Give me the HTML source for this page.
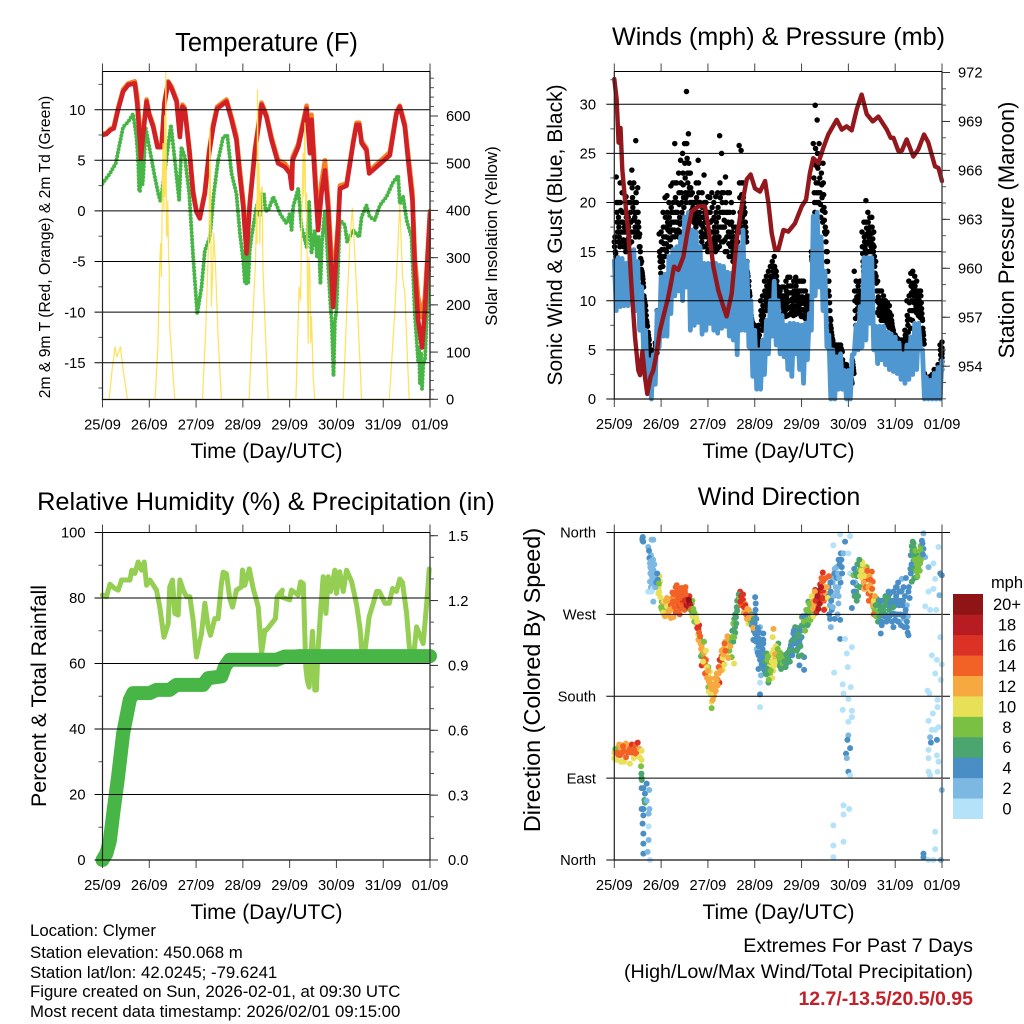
<!DOCTYPE html>
<html lang="en">
<head>
<meta charset="utf-8">
<title>Clymer Station Meteogram</title>
<style>
html,body{margin:0;padding:0;background:#fff;}
svg{display:block;font-family:"Liberation Sans",Arial,sans-serif;fill:#000;}
</style>
</head>
<body>
<svg id="chart" xmlns="http://www.w3.org/2000/svg" width="1024" height="1024" viewBox="0 0 1024 1024">
<rect x="0" y="0" width="1024" height="1024" fill="#fff"/>
<text x="266.5" y="51" font-size="25.5" text-anchor="middle">Temperature (F)</text>
<text x="778.5" y="45" font-size="25.2" text-anchor="middle">Winds (mph) &amp; Pressure (mb)</text>
<text x="266" y="510" font-size="25.35" text-anchor="middle">Relative Humidity (%) &amp; Precipitation (in)</text>
<text x="779" y="505" font-size="25" text-anchor="middle">Wind Direction</text>
<text transform="translate(50 247) rotate(-90)" font-size="15.7" text-anchor="middle">2m &amp; 9m T (Red, Orange) &amp; 2m Td (Green)</text>
<text transform="translate(497 236) rotate(-90)" font-size="16.8" text-anchor="middle">Solar Insolation (Yellow)</text>
<text transform="translate(562 235) rotate(-90)" font-size="21" text-anchor="middle">Sonic Wind &amp; Gust (Blue, Black)</text>
<text transform="translate(1014 230) rotate(-90)" font-size="21.9" text-anchor="middle">Station Pressure (Maroon)</text>
<text transform="translate(46 696) rotate(-90)" font-size="21.4" text-anchor="middle">Percent &amp; Total Rainfall</text>
<text transform="translate(540 680) rotate(-90)" font-size="23.4" text-anchor="middle">Direction (Colored By Speed)</text>
<text x="266.5" y="458" font-size="21" text-anchor="middle">Time (Day/UTC)</text>
<text x="778.5" y="458" font-size="21" text-anchor="middle">Time (Day/UTC)</text>
<text x="266.5" y="919" font-size="21" text-anchor="middle">Time (Day/UTC)</text>
<text x="778.5" y="919" font-size="21" text-anchor="middle">Time (Day/UTC)</text>
<text x="30" y="936" font-size="16.8">Location: Clymer</text>
<text x="30" y="958" font-size="16.8">Station elevation: 450.068 m</text>
<text x="30" y="978" font-size="16.8">Station lat/lon: 42.0245; -79.6241</text>
<text x="30" y="997" font-size="16.8">Figure created on Sun, 2026-02-01, at 09:30 UTC</text>
<text x="30" y="1017" font-size="16.8">Most recent data timestamp: 2026/02/01 09:15:00</text>
<text x="973" y="952" font-size="19.7" text-anchor="end">Extremes For Past 7 Days</text>
<text x="973" y="978" font-size="19.7" text-anchor="end">(High/Low/Max Wind/Total Precipitation)</text>
<text x="973" y="1005" font-size="19.5" font-weight="bold" fill="#c4202a" text-anchor="end">12.7/-13.5/20.5/0.95</text>
<text x="1007" y="588" font-size="16.5" text-anchor="middle">mph</text>
</svg>
<script>
const dayLabels = ['25/09','26/09','27/09','28/09','29/09','30/09','31/09','01/09'];
const tempTicks = [-15,-10,-5,0,5,10];
const solarTicks = [0,100,200,300,400,500,600];
const windTicks = [0,5,10,15,20,25,30];
const pressureTicks = [954,957,960,963,966,969,972];
const humidityTicks = [0,20,40,60,80,100];
const rainTicks = ['0.0','0.3','0.6','0.9','1.2','1.5'];
const directionTicks = ['North','East','South','West','North'];
const speedLabels = ['0','2','4','6','8','10','12','14','16','18','20+'];
const speedColors = ['#b4e2f8','#7db8e3','#4a8ec6','#4aa56f','#7ac143','#e8e056','#f7a941','#f26125','#dc3226','#b71c22','#8f1416'];

const tempHours = [0,2,4.1,5.8,8,10.6,13.2,16.6,17.8,19.2,19.7,20.9,22.6,23.9,26,28.2,30.3,31.8,33.7,35.4,38,39.7,41,42.2,44.5,46.5,48.2,49.9,52.5,54.7,56.8,58.8,63.6,66.2,68.7,70.5,72.2,73.9,75.6,78.1,81.6,84.1,86.7,90.1,93.5,96.1,97.1,97.5,100.4,104.7,106.4,107.2,108.4,110.6,112.3,114.1,115.8,118.3,120.9,121.8,125.2,128.6,130.3,131.7,132.9,135.4,136.8,140.6,147.4,150.8,152.5,155.1,156.8,159,160.2,161.9,163.9,165.4,167.1,168];
const temp2m = [7.5,7.6,8,8.15,10,11.8,12.45,12.6,10.6,7,5.2,7.65,10.8,9.5,8.3,6.3,6.3,10.6,12.7,12.1,10.8,7.3,10.3,10,6,1.7,-0.1,-0.75,1.7,5.7,8.3,10.1,10.8,9,7,3.4,0.4,-4.2,0.7,5.7,10.5,9.3,7,4.7,4.35,3.7,2.2,5,6.3,10.1,5.7,9,5,-1.9,1.7,4,0.05,-9.5,-1.6,2.2,2.5,6.7,8.5,8.5,6.7,6,3.7,4.35,5.5,9.6,10.3,8.3,5,1,-5.5,-10.8,-13.5,-9.8,-3.6,-0.3];
const temp9m = [7.6,7.7,8.1,8.3,10.2,12,12.6,12.8,11.3,8,5.8,7.9,11,9.7,8.5,6.5,6.5,10.8,12.8,12.3,11,7.6,10.5,10.2,6.3,2,0,-0.6,1.9,6,8.6,10.3,11,9.3,7.4,4,1,-3.5,1,6,10.7,9.5,7.3,5,4.7,4,2.5,5.3,6.6,10.4,6.5,9.5,6,-1,2.8,5,1,-7.5,-1,2.5,2.7,6.9,8.7,8.7,6.9,6.2,3.9,4.6,5.8,9.8,10.4,8.6,5.6,1.8,-4.5,-8.5,-10.5,-8.5,-3,0];
const dewHours = [0,3.8,6.8,8.9,10.6,13.2,15.7,17.4,18.3,18.8,19.2,19.6,20,20.5,20.9,21.5,22.2,24.3,26.8,28.6,29.8,32,35.1,37.1,39.3,40.5,42.2,44.5,46.5,48.6,50.8,52.5,55.1,57.1,59.3,61.9,64,66.2,68.7,70.5,72.2,73,73.4,73.8,74.2,74.7,75.5,76.4,79,80,80.6,81.6,82.8,83.6,85,87.6,91,94.4,96.1,97,97.8,100.4,102.1,104.7,106,107.2,108.9,110,110.8,111.8,112.6,114.1,115.8,117,117.6,118.5,119.2,120,121.8,124.3,125.5,128.6,131.7,132.9,135.4,137.1,139.7,142.3,145.7,149.1,151.7,152.5,154.2,156,158.5,160.2,161.9,162.4,162.8,163.4,163.9,164.6,165.4,167.6,168];
const dewValues = [2.7,3.7,4.7,6.7,8.3,8.8,9.6,7.3,5,2,1.9,5,5,2.6,3.4,5.6,8.15,6,3.4,1.7,0.9,4,8.5,5,1.05,6.3,5.35,1.7,-4.55,-10.15,-7.5,-3.9,-2.6,1.7,5,7.3,7.5,3.7,1.7,-2.25,-4.9,-7,-4,-7.2,-4,-7.2,-4,-2.6,0.4,1,-0.5,1.7,1.7,0,0.05,1.4,-0.25,-1.25,-0.25,-1.9,0.4,2.2,-1.6,-3.55,0.9,-4.2,-1.9,-4.5,-2.5,-7.2,-3,0.05,-5.55,-9.5,-11,-16.3,-11,-9.85,-0.9,-1.4,-3.05,-1.9,-2.6,-0.6,0.55,-0.6,-0.9,0.55,1.4,2.85,3.5,0.7,1.4,-0.9,-2.6,-10.15,-14.8,-13.5,-17,-14,-17.6,-15,-14.8,-5.55,-2.9];
const solarHours = [0,3.4,5.1,6.5,7.2,8,9.2,10.6,12.8,27,28.4,29.4,29.8,30.2,30.8,31.1,31.5,31.9,32.2,32.5,32.8,33.2,33.5,33.9,34.2,34.5,35.4,37.1,51.3,53,54.7,55.1,55.9,57.1,58.1,59.3,61,75.2,77.3,78.5,79,79.3,79.5,79.9,80.3,80.7,81.2,81.9,82.3,83.3,85,99.2,100.9,101.6,102.3,102.9,103.2,103.8,104.2,104.7,105,105.5,105.9,106.4,106.8,107.2,108.1,108.9,123.5,125.5,127.2,128.2,129.4,131.1,132.9,147.1,150,152.5,153.9,155.1,157.3,168];
const solarValues = [0,0,69,111,90,97,111,62,0,0,111,290,330,260,480,542,400,600,430,693,350,345,420,300,281,154,97,0,0,154,366,574,197,352,267,133,0,0,189,295,420,330,655,400,500,330,440,450,280,168,0,0,238,210,400,521,430,585,400,436,300,118,300,267,120,175,48,0,0,210,352,405,309,168,0,0,189,412,260,224,0,0];

const gustTop = [16,22.6,20,22,21,19,20.6,20,22,23.3,
22,26.3,21.5,16.8,14,11.4,9.5,7.4,5.5,5,
4.8,5.7,9,16.8,17,19,20.5,20.7,20,21.7,
22,26,22,23,24.3,25,26,31.3,27,23,
21,20,22,24.3,20,21,22.8,20,20.6,20.5,
21,20,20.6,21,26.8,25,21,22.6,21,21,
20,19,17.5,17,25.8,25.3,22,19,14,12,
9,7.7,7.5,7.3,7.5,10,10.5,12,12.5,13,
13.5,14,14.5,13,11.4,11,11.4,11.4,12,12.4,
12.4,11.5,12,12.4,12,12,12,12,11,10.5,
10,15,26,29.9,28.4,26,25,24,19,17,
12,8,6,5.5,5.5,5.5,5.5,4,3.5,3.5,
3,2.6,4,13,12,11.5,12,17,18,20.2,
19,18.5,18.5,17,14,12,11,11,10.5,10,
9.8,9.5,8.5,7,6.5,6.2,6,6,6,7,
10,12,12.8,13,12.5,12,11,11,8,2.6,
2,2.2,2.3,2.5,3,3,3.5,5.5,5.8];
const gustUpper = [15.5,20,18.5,20,19,17.5,18.5,18.5,20,21.5,
20,21,19,15.5,13,10.5,9,6.5,5,4.6,
4.7,5.4,8,15,16,17.5,18.5,19,18.5,19.5,
20,22,20,21,22,23,24,26,24,21.5,
20,19,20.5,22,18.5,19.5,20,18,19,19,
19.5,18.5,19,19.5,22,21,19,20,19,19,
18,17.5,16.5,16,22,22,20.5,18,13,11,
8.5,7,7,6.8,7,9,9.5,11,11.5,12,
12.5,13.5,13.5,12.5,11,10.5,10.5,10.5,11,11.5,
11.5,10.8,11,11.5,11,11,11,11,10.3,9.8,
9.6,14.5,24,25.5,25,24,23,22,17.5,15,
10.5,7.2,5.7,5.2,5.1,5.2,5.2,3.7,3.2,3.2,
2.9,2.3,3.8,11,11,10.5,11,15.5,16.5,18,
18,17.5,17.5,15.5,12.5,11,10,10,9.7,9.3,
9,8.8,8,6.7,6.1,5.8,5.6,5.6,5.6,6.5,
8.5,10.5,11.5,11.8,11.5,11,10.5,10.5,7.2,2.4,
1.8,2,2.1,2.2,2.7,2.7,3.1,5,5.2];
const gustA = [16.5,19,17.5,19.2,18,17,17.8,17.5,19,20.5,
19,20,18,15,12.8,10.2,8.5,6.8,4.8,4.5,
4.6,5.2,7.5,14.5,15.2,16.5,17.5,18,17.7,19,
19,20.5,19,19.8,21,21.8,22.5,24.5,23,20.8,
19.5,18.5,20,21,17.8,18.5,19,17.2,18,18,
18.2,17.5,18,18.5,20.5,20,18.2,19,18,17.8,
17,16.5,15.8,15.5,20.5,20.8,20,17.5,12.8,10.8,
8.2,6.8,6.8,6.5,6.5,8.5,9,10.5,11,11.5,
12,13,13.2,12,10.8,10.2,10,10,10.4,10.8,
10.8,10.2,10.5,10.8,10.5,10.3,10.4,10.3,9.9,9.4,
9.4,14.2,22.5,23.8,23.5,22.5,21.8,20.8,16.8,14,
9.8,6.8,5.5,5.1,4.9,5,5.1,3.5,3.1,3,
2.8,2.1,3.5,10,10.4,10,10.6,14.8,16,17.4,
17.2,16.8,16.9,14.5,11.8,10.4,9.5,9.4,9.2,8.9,
8.6,8.4,7.7,6.6,6,5.7,5.4,5.4,5.4,6.2,
8,9.8,10.8,11.2,10.8,10.4,10,9.8,6.8,2.3,
1.6,1.8,1.9,2,2.5,2.5,2.9,4.5,4.9];
const gustMid = [15,18,16.5,18,17,16,17,16.5,18,19.5,
18.5,19,17.5,14.3,12.5,10,8,6.5,4.6,4.4,
4.5,5,7,14,14.5,15.8,16.5,17.2,17,18,
18,19,18,18.5,20,20.5,21,23,21.5,20,
19,18,19,20,17,17.5,18,16.5,17,17,
17,16.5,17,17.5,19,19,17.5,18,17,16.5,
16,15.5,15,15,19,19.5,19.5,17,12.5,10.5,
8,6.5,6.6,6.3,6,8,8.5,10,10.5,11,
11.5,12.5,12.8,11.5,10.5,10,9.5,9.5,9.8,10,
10,9.5,10,10.2,10,9.7,9.8,9.7,9.5,9,
9.2,14,21,22,22,21,20.5,19.5,16,13,
9,6.5,5.3,5,4.8,4.8,5,3.3,3,2.9,
2.7,2,3.2,9,9.8,9.6,10.3,14,15.5,16.8,
16.5,16,16.3,13.5,11,9.8,9,8.8,8.7,8.5,
8.2,8,7.4,6.5,5.8,5.5,5.2,5.3,5.2,6,
7.5,9,10,10.5,10,9.7,9.5,9.2,6.5,2.2,
1.5,1.6,1.7,1.9,2.3,2.4,2.7,4,4.6];
const gustB = [14.8,17,16,17,16.2,15.5,16.2,15.8,17,18.2,
17.5,18,16.5,13.8,12.2,9.8,7.8,6.2,4.4,4.2,
4.4,4.9,6.5,13.4,14,15.2,15.8,16.4,16.2,17.2,
17.2,18,17.2,17.8,19,19.5,20.5,22,20.8,19.2,
18.5,17.8,18.5,19,16.5,16.5,16.8,15.8,16,16.2,
16.2,15.8,16.2,16.5,17.5,17.5,16.2,16.5,15.8,15.5,
15,14.8,14.5,14.8,18,18.5,18.8,16.5,12,10,
7.8,6.2,6.2,5.9,5.8,7.5,8,9.5,10,10.5,
11,12.2,12.4,11.2,10.2,9.8,9.2,9,9.2,9.3,
9.4,9,9.3,9.5,9.3,9,9.1,9,9,8.8,
9,13.5,20,21,21,19.8,19.2,18.2,15,12,
8.2,6.2,5.2,4.8,4.6,4.6,4.9,3.1,2.8,2.6,
2.5,1.8,2.9,8.2,9.2,9.3,10,13.5,15.2,16,
15.8,15.5,15.7,12.8,10,9.2,8.5,8.4,8.3,8,
7.8,7.6,7.2,6.2,5.6,5.3,5,5,5,5.7,
6.8,8.1,9,9.8,9.4,9.1,8.9,8.7,6,2.1,
1.3,1.4,1.5,1.7,2,2.2,2.4,3.5,4.2];
const gustLow = [14.5,16,15.5,16,15.5,15,15.5,15,16,17,
16.5,17,15.5,13.2,11.8,9.5,7.5,6,4.2,4,
4.2,4.7,6,12.8,13.5,14.5,15,15.5,15.5,16.5,
16.5,17,16.5,17,18,18.5,20,21,20,18.5,
18,17.5,18,18,16,15.5,15.5,15,15.2,15.3,
15.5,15,15.3,15.5,16,16,15,15,14.5,14.5,
14,14,14,14.5,17,17.5,18,16,11.5,9.5,
7.5,6,5.8,5.5,5.5,7,7.5,9,9.5,10,
10.5,11.8,12,11,10,9.5,8.8,8.4,8.5,8.6,
8.8,8.5,8.6,8.8,8.7,8.4,8.5,8.2,8.5,8.5,
8.9,13,19,20,20,18.5,18,17,14,11,
7.5,5.8,5,4.5,4.4,4.5,4.8,3,2.5,2.4,
2.3,1.6,2.6,7.5,8.5,9,9.8,13,14.8,15,
15,15,15,12,8.8,8.5,8,8,8,7.6,
7.3,7.2,7,6,5.5,5.2,4.8,4.8,4.8,5.4,
6.2,7.2,8,9,8.8,8.5,8.3,8.2,5.6,2,
1.2,1.2,1.3,1.5,1.8,2,2.2,3,3.8];
const sonicWind = [14.1,9,14.4,9.4,14.3,9.5,13.8,9.5,14.5,10,
15.2,9,14,7,11.4,5,7,1.5,4,0,
4.5,1.5,9,5.3,12.4,6.4,12.7,6.4,14.5,8.7,
15.2,10.5,15.5,11,16.5,10,18.5,11.4,19,7,
17.2,7.5,17,7.8,15.5,6.6,13.8,7,13.8,7.7,
13.8,7,13.8,6.7,13.6,7.2,13.5,7.4,12.9,6.4,
12.8,6,13.4,4.5,15.5,7,17.2,7,14,5.3,
10,2.3,7,1,5,1,6,2.5,8,4.6,
10,6.4,12,5.5,10,4.6,8.5,4.3,7.5,3,
7.7,2.3,7.7,4.6,7.6,3,7.5,1.6,7.7,4,
8.7,7,18.6,10.5,19,11.4,16.5,9,13,5.3,
6.5,0,5,0,4.3,1,4.6,1,2.9,0,
2.9,0,4.5,4.6,7.5,5,9.4,5.3,14.4,6,
14.4,7.7,14.4,5,7.4,3.6,7.4,4,7.4,3.5,
6.8,3,6.6,2.8,6.3,2.6,5.7,2,4.6,1.6,
5.5,2,6.3,2.5,7.7,3,7.7,5,5,0,
2.2,0,1.9,0,2.6,0,3.2,0,3.9];
const pressureHours = [0,1.2,2.2,3.2,4.1,5.5,7.2,8.9,10.6,12.3,13.2,14.4,15.7,16.9,18.6,20,21.7,23.4,26,27.7,29.4,30.6,32.8,35.4,37.4,39.7,43.1,46.5,48.2,50.8,53.3,55.9,57.6,60.2,62.7,65.3,67.9,69.9,72.1,74.7,77.3,79,80.7,82.4,84.1,86.7,89.2,92.6,96.1,98.3,100.3,102,104.6,107.2,109.7,114,116.6,119.1,121.7,124.3,126.8,129.4,132.5,135.4,139.7,141.7,143.1,145.6,147.4,149.9,153.3,155.9,158.8,161,164.4,166.2,168];
const pressureValues = [971.6,970.35,967.7,968.6,966.05,964.2,962.15,958.7,955.8,953.75,953.45,954.9,953.35,952.3,953.35,953.75,954.8,956.2,957.45,958.25,959.3,960.1,959.9,960.7,962.15,963.5,963.8,963.8,962.55,960.1,958.65,957.65,957.05,958.45,961.75,963.8,965.45,965.75,964.9,964.7,965.35,964,962.15,961.15,961.15,962.35,962.25,962.75,963.8,964.2,965.85,966.75,966.45,967.4,968.2,969.1,968.5,968.7,968.45,969.75,970.65,969.45,969,969.3,968.5,968,968,967.2,967.2,967.9,966.85,967.3,968.2,967.7,966.25,966.15,965.35];

const humidityHours = [0,2,3.8,6.4,8.1,9.8,11.5,14.1,15,16.6,18.3,20,21.4,22.6,24.3,27.7,29.4,31.5,33.7,34.5,35.9,37.1,38.8,39.7,41.4,43.1,44.8,46.5,48.2,50.8,52.5,54.2,55.4,57.6,59.3,61,61.9,63.6,65.3,66.7,68.7,71.3,71.8,73,75.3,77.3,79.9,81.6,83.3,84.1,86.7,88.7,89.6,92.3,91.5,96,96.9,100.4,101.6,103,104.3,105.1,106,107.7,108.9,109.7,110.6,111.8,113.2,114.6,115.8,117,119.2,120,121.7,123.5,125.2,127.8,130.4,132.2,133,134.7,136.8,138.9,140.6,142,144.9,147.1,148.8,150.8,152.5,153.9,156,157.4,159.4,161.1,164.5,166.6,167.6];
const humidityValues = [80.9,80.4,84.2,82.9,82.4,85.5,85.5,85.5,88.5,87.5,91,88.5,91,83.9,85.5,82.4,77.2,68,72.1,83.4,85.5,75.3,74.8,85.5,82.4,80.4,80.4,73.2,62,69.2,78.4,71.2,68.6,73.7,73.7,84.4,87.9,87.4,79.7,77.2,82.4,83.4,88.5,83.9,88.9,82.9,77.2,63,70.2,70.2,72.2,73.7,80.4,82.4,80.4,79.4,82.4,80.9,84.9,84.4,58.8,54.7,52.8,69.8,51.9,51.9,64.6,75.3,86.5,75.3,86.5,82,88.5,81.4,88,82,88.5,85,77.8,70.2,64,64,74.3,78.4,82,82,78.4,78.4,82.9,82,85.8,84.7,75.3,65,61,71.2,66.1,80.4,88.9];
const rainHours = [0,2,3.8,5.5,8,10.6,12.3,14,15.7,24.3,27.7,34.5,37.9,51.6,54.2,61,62.8,65.3,89.2,93.5,97.8,101,168];
const rainValues = [0,0.03,0.09,0.216,0.386,0.586,0.664,0.741,0.772,0.772,0.787,0.787,0.81,0.81,0.841,0.849,0.895,0.926,0.926,0.941,0.941,0.943,0.943];

const dirHours = [
0,0,1,1,2,2,3,3,4,4,5,5,6,6,7,7,8,8,9,9,10,10,11,11,12,12,13,13,14,14,0.5,1.5,2.5,3.5,4.5,
13.7,13.9,14,14.1,16.6,14.9,14,15.7,15.7,15.4,14.9,14,14.9,14.5,14.9,14.9,14.9,17.9,17.6,17.6,17.6,17.1,18.3,18,16.6,
14.4,14.5,19.1,20,17.4,18.8,18.3,20,19.1,20,18.3,17.4,19.1,20.9,23.4,22.6,20,22.6,24.3,25.1,18.5,19.5,20.5,18.8,19.8,23,23.2,
26,28.5,30.3,29.4,32,32.3,31.1,33.7,36.2,37.9,37.4,33.7,39.7,41.4,42.2,43.1,43.4,43.9,43.1,44.8,45.6,47,44.8,48.2,48.2,49.9,48.2,49.9,51.6,49.9,49.9,53.9,52.5,55.6,56.8,55.6,58.5,59,60.2,61.4,61.9,62.4,62.8,64.5,65.3,66.2,67.9,69.6,68.7,70.5,72.2,72.5,72.2,71.3,73,74.7,76.4,76.4,77.3,74.7,73.9,75.2,74.7,74.7,74.7,79,79.9,81.6,81.2,81.6,82.4,80.7,78.1,84.1,85.8,87.6,89.3,91,91.8,92.7,93.5,95.2,94.9,97.3,97.3,96.1,97.8,99.5,100.4,102.1,103.8,104.7,103.8,106.9,107.2,106.4,108.9,108.1,109.8,
111.5,114,116.1,116.6,114.9,114.9,110.6,115.8,111,115.8,118.3,112.3,115.8,118.3,120.9,117.5,120,120.9,121.8,119.2,119.7,112.7,117.1,121.2,117.5,120,117.1,121.8,120,121.8,120,119.5,120.9,118.8,119.2,120,120.9,117.5,120.4,117.5,112.3,112.3,117.5,112.3,
122.6,124.3,125.2,126.9,127.7,128.6,129.4,129.4,123.5,124.3,121.8,132,132.5,130.3,131.2,132.9,134.6,136.3,138,139.7,137.1,136.6,141.4,140.6,143.1,144.8,143.1,144,143.1,147.4,147.4,146.5,149.1,150,150.8,148.3,150.8,152.5,153.4,154.2,153.4,154.2,156,156.8,155.1,157.7,158.5,158.5,159.4,161.1,163.6,164.5,166.2,167.1,167.9,166.7,163.6,161.1,159.4,161.9,165,167.1,162.8,165.4,167.9,164.5,167.4,160.6,161.6,165.7,165.7,163.3,161.1,166.2,162.8,164.5,161.9,165.4,162.3,161.1,161.1,165.4,166.2,161.1,161.9,165.7,167.9,164.5,158.5,158.5,161.1,163.6,167.4,164.5,
25,25.5,27,27,28,29,29.8,30.8,31.5,32.5,33,34,34.5,35,35.5,36,36.5,37,37.5,38,38.5,39,40,40,41,41.8,42.5,
43.5,44.2,44.5,45,45.8,46,46.5,47,47.5,48.5,49,49.5,50,50.5,50.8,51,51.2,52,52.5,53,53.5,54,54.5,55,56,56.5,57,57.5,58,59,60,60.5,61,61.5,62,63,63.5,64,64.8,65,66,66.5,67,68,69,70,70.5,71,71.5,72,72,72.7,73,73.5,74,74.5,75,75.5,76,76.5,77,77.5,78,78.5,79,79.5,80,80.5,81,81.5,82,82.8,83,83.5,84,84.5,85,85.5,86,86.5,87,88,88.5,89,90,90,90.5,91.5,92,92.5,93,94,94,94.5,95,95.5,96,96,97,98,98.5,99,99.5,100,100.8,101,101.5,102.5,103,103,104,104.5,105,105.5,105.5,106,106.5,107,107.5,108,
109,110,110,110.5,111,111.5,112,112.5,113,113,114,114.5,115,115,116,
123,123.5,124,124.5,125,125.5,126,126.3,127,128,128.5,129,130,130.5,131,131.5,132,132.5,133,133.5,134,135,135.5,136,137,137.5,138,139,139,140,140,141,141,142,142,143,144,144.5,145,145.5,146,146,147,148,148.5,149,149.5,150,150.5,151,
151.8,152,152.5,153,153,153.8,154.5,155,155.5,156.2,157,157.2,
14.6,14.8,17.8,18,18.6,18.9,19.3,19.6,19.9,18.5,19,20.3,20.6,21,21.5,22,22.3,22.8,23,23.6,24,24.5,25,25.5,26,
26.5,27.5,28,28.5,29,29.5,30,30.5,31,31.5,32,32.5,33,33.5,34,34.5,35,35.5,36,36.5,37,37.8,38.2,38.6,39,39.5,40,40.5,41,41.5,42,42.5,43,43.5,44,44.5,
45,45.5,46,46.5,47,47.5,48,48.5,49,49.5,50,50.5,51,51.5,52,52.5,53,53.5,54,54.5,55,55.5,56,56.5,57,58,58.5,59.5,60.5,61,61.5,62,62.5,63,
63.8,64.2,64.6,65,65.5,66,66.5,67.2,67.6,68.2,68.8,
70.3,71.2,71.6,72.4,72.8,73.2,73.6,74,74.4,75,75.4,76,76.4,76.8,77.2,78,78.4,78.8,79.2,79.6,80.2,80.8,81.2,82,82.4,83,83.8,84.2,84.8,85.2,85.6,86.2,86.8,87.2,87.8,88.2,89,89.6,90.2,90.8,91.2,92,92.4,93,93.5,94.2,94.6,95,95.4,96.2,96.6,97.2,97.8,98.4,99,99.8,100.2,100.6,101.2,101.8,102,102.4,102.8,103.2,103.6,104.2,104.6,105.2,106,106.2,106.8,107.5,
108.5,109.5,110.2,110.8,111.2,112,112.8,113.5,114.2,114.7,115.2,115.5,116.4,116.8,
122.4,122.8,123.2,123.8,124.6,125.6,126,126.6,127.4,127.8,128.2,129,129.8,130.2,130.8,131.4,132.2,133,133.6,134.2,134.8,135.2,136,136.6,137,137.6,138.4,139,139.5,140.4,141,141.6,142.4,143,143.6,144.4,145,145.4,146,146.6,147,147.6,148.2,148.6,149.4,150,150.4,151.4,
152,152.4,152.8,153,153.6,154,154.4,154.8,155,155.4,155.8,156.4,156.6,157,157.5,158,158.2
];
const dirAngles = [
112,118,110,122,116,124,122,115,126,118,108,120,128,113,125,118,122,106,127,118,112,122,127,117,129,120,113,122,110,120,122,118,127,108,125,
103,95,90,88,84,79,79,73,63,66,56,56,49,40,29,18,7,77,51,37,22,9,0,56,65,
353,351,352,352,344,335,326,319,313,308,306,295,295,311,306,299,284,293,284,278,322,310,325,300,298,302,312,
276,282,267,287,302,295,285,287,296,287,277,276,282,267,260,254,249,243,242,236,229,220,214,212,203,199,190,187,185,174,167,195,192,216,225,209,234,245,223,216,256,267,278,295,284,280,275,267,260,258,289,282,249,242,232,256,249,238,227,220,210,203,195,182,168,195,205,254,245,231,220,212,227,238,220,216,223,232,249,256,238,243,214,209,223,267,260,284,267,275,295,285,278,316,307,296,293,276,300,
311,322,337,322,300,282,265,264,256,243,243,346,358,350,356,337,337,315,234,227,212,206,193,190,183,177,165,164,152,157,137,132,123,117,112,97,93,60,56,50,38,16,20,3,
313,302,326,328,317,309,322,300,295,285,277,317,306,293,285,278,287,275,285,282,258,249,285,295,285,300,271,264,256,309,296,285,271,256,247,300,295,306,348,337,329,318,331,326,311,351,359,342,333,322,326,309,344,315,313,291,298,295,279,275,275,245,225,220,215,205,198,186,183,176,168,161,153,146,143,143,135,132,129,121,112,115,108,97,93,97,77,31,7,3,0,0,0,12,
283,270,279,288,273,280,294,290,300,287,280,292,299,283,290,275,300,290,283,278,290,275,285,272,262,270,255,
258,238,224,232,222,240,215,206,212,196,207,190,195,183,189,180,195,200,205,198,205,213,220,224,232,215,240,226,240,230,240,252,240,265,250,274,285,288,290,280,286,272,282,265,275,262,270,262,252,270,260,240,250,228,235,243,228,215,222,210,218,205,215,220,212,225,215,225,200,208,228,235,225,230,218,214,228,210,222,212,225,215,222,228,232,218,236,242,230,245,250,232,255,224,238,252,225,245,258,268,264,272,260,276,280,270,284,290,280,297,288,280,296,303,282,290,306,296,285,300,
300,312,290,280,295,275,305,290,265,320,310,270,330,290,305,
320,305,295,312,290,318,300,322,310,298,320,308,313,285,302,296,290,280,285,274,280,270,285,280,270,285,275,270,290,280,265,275,292,270,285,295,280,290,270,305,280,262,295,285,265,290,310,280,268,300,
320,335,345,335,320,310,325,335,318,325,340,330,
355,350,340,332,328,320,322,316,330,315,305,312,305,300,305,315,308,304,295,289,278,275,272,285,268,
285,270,286,275,266,276,284,292,278,272,284,296,292,270,280,288,295,278,285,292,280,283,286,282,280,276,268,276,272,262,266,262,248,250,246,232,
226,218,228,205,230,200,208,185,194,182,188,176,190,193,186,198,192,212,220,208,230,222,226,238,230,246,222,235,245,260,245,270,260,285,
292,288,284,290,286,292,278,280,270,276,266,
268,255,265,275,265,245,255,225,250,238,222,232,242,212,208,204,210,224,198,218,208,218,228,214,226,218,232,224,220,216,224,216,220,218,212,226,222,218,228,240,225,252,238,242,230,248,240,246,235,258,268,262,252,275,258,282,272,264,290,276,268,282,295,285,272,290,276,282,300,310,288,275,
310,288,270,305,285,278,315,300,295,315,310,325,330,315,
305,295,290,315,325,330,312,318,325,305,312,300,318,300,312,308,298,270,290,268,280,262,268,285,262,278,268,280,262,288,268,280,262,278,270,300,285,262,295,270,258,280,268,256,275,262,250,288,
315,325,340,350,343,330,340,318,325,312,322,332,318,345,338,348,336
];
const dirSpeeds = [
10,10,10,12,14,12,12,14,12,14,10,14,12,14,12,14,14,10,16,14,10,14,14,14,16,14,10,12,10,10,8,14,12,10,14,
8,6,6,6,4,4,4,4,6,6,4,4,4,4,4,4,4,2,2,0,2,2,0,2,2,
4,4,2,2,2,2,2,2,2,2,2,0,0,4,10,10,2,10,8,8,2,2,2,2,0,10,10,
12,12,12,14,14,14,14,16,14,18,20,14,8,10,12,16,12,6,12,12,12,14,16,8,10,12,8,12,12,10,8,16,12,16,12,10,10,12,8,10,6,6,6,16,16,16,12,12,10,4,4,4,4,4,2,2,4,4,6,4,4,2,0,4,0,6,8,12,10,10,12,10,6,6,8,6,6,4,4,6,6,4,4,4,4,8,8,6,10,12,18,18,18,16,14,16,12,10,4,
2,2,4,4,2,2,4,4,2,4,0,0,0,4,0,2,0,0,0,0,0,0,0,0,0,0,0,0,0,0,2,4,4,4,2,4,0,0,0,0,0,0,0,0,
8,6,10,10,12,14,8,10,6,6,4,14,14,14,10,8,6,6,6,6,4,4,6,4,4,4,4,4,4,2,2,4,4,4,4,4,4,6,6,6,6,8,8,8,6,4,2,4,2,2,0,0,0,4,4,2,0,0,0,0,0,0,0,0,0,0,0,0,0,0,0,0,0,0,0,0,2,4,4,0,0,0,0,0,0,0,2,0,4,4,0,0,2,0,
12,12,10,12,12,14,14,12,14,14,16,14,14,16,16,14,14,18,18,20,16,8,8,6,8,10,16,
16,12,6,12,14,8,14,12,10,12,10,12,12,12,12,12,10,12,12,14,12,12,14,14,12,10,12,10,12,8,8,6,6,6,6,6,12,16,16,14,16,12,12,12,12,8,6,4,4,4,4,4,4,4,4,4,4,4,4,6,6,6,6,8,8,8,10,10,10,10,12,10,10,10,8,6,8,6,6,6,6,4,6,6,6,6,4,4,6,4,6,4,6,6,6,4,6,4,4,4,8,6,8,8,8,6,12,12,10,16,18,16,18,16,14,14,14,16,14,12,12,14,
4,2,4,4,2,2,4,2,4,2,4,2,4,4,2,
6,6,6,8,6,8,10,12,12,14,12,14,12,10,14,12,10,8,6,8,6,6,6,6,6,6,6,4,4,6,4,4,4,4,4,4,4,4,4,2,4,4,2,4,4,2,2,4,4,4,
6,6,6,6,6,6,8,8,8,8,4,4,
4,4,2,2,2,2,2,2,2,2,2,2,4,4,4,8,10,10,8,8,10,10,12,12,12,
12,12,12,12,14,14,14,14,14,14,14,14,14,14,14,14,16,14,18,16,20,20,18,14,10,8,8,8,10,10,10,14,14,12,8,10,
12,14,10,12,12,10,12,10,12,12,12,12,12,12,12,14,16,12,12,10,12,14,14,12,12,12,8,8,8,6,6,6,6,8,
16,16,16,16,16,16,14,12,12,12,12,
6,4,4,4,4,4,4,4,4,4,4,4,4,6,6,8,8,8,8,10,10,10,12,10,8,8,8,6,8,8,8,6,6,6,6,6,6,6,4,4,4,6,6,6,4,6,6,6,4,8,8,8,6,8,8,8,10,12,10,12,12,16,16,18,18,18,18,14,16,16,14,10,
4,4,4,2,4,2,2,2,2,4,4,4,4,4,
6,6,6,6,10,10,10,12,10,14,14,12,12,14,14,14,12,8,6,6,6,4,4,6,4,6,4,6,4,4,4,6,4,4,4,4,4,4,4,4,4,4,4,4,4,4,4,4,
6,6,6,8,8,8,8,8,8,8,8,8,8,4,4,4,4
];

const svg = document.getElementById('chart');
const NS = 'http://www.w3.org/2000/svg';
const HOURS = 168;
const GRID = '#000';

function make(tag, attrs, text) {
  const el = document.createElementNS(NS, tag);
  for (const k in attrs) el.setAttribute(k, attrs[k]);
  if (text !== undefined) el.textContent = text;
  return el;
}
function linear(d0, d1, r0, r1) {
  return v => r0 + (v - d0) * (r1 - r0) / (d1 - d0);
}
function seg(x1, y1, x2, y2, w, color) {
  return make('line', {x1: x1, y1: y1, x2: x2, y2: y2, stroke: color || GRID, 'stroke-width': w || 1});
}
function pathFrom(xs, ys, fx, fy) {
  let d = '';
  for (let i = 0; i < xs.length; i++) {
    d += (i ? 'L' : 'M') + fx(xs[i]).toFixed(2) + ' ' + fy(ys[i]).toFixed(2);
  }
  return d;
}
function series(parent, xs, ys, fx, fy, color, width, dash) {
  const p = make('path', {d: pathFrom(xs, ys, fx, fy), fill: 'none', stroke: color, 'stroke-width': width, 'stroke-linejoin': 'round', 'stroke-linecap': 'round'});
  if (dash) p.setAttribute('stroke-dasharray', dash);
  parent.appendChild(p);
  return p;
}
function tickLabel(parent, x, y, anchor, text) {
  const t = make('text', {x: x, y: y, 'font-size': 14.7, 'text-anchor': anchor}, text);
  parent.appendChild(t);
  return t;
}

/* Panel frame: time ticks along top and bottom, box sides */
function frame(L, R, T, B, rightColor) {
  const g = make('g', {});
  const fx = linear(0, HOURS, L, R);
  dayLabels.forEach((lab, i) => {
    const x = fx(i * 24);
    const tb = seg(x, T - 8, x, T, 1, '#444');
    
    
    g.appendChild(tb);
    const bt = seg(x, B, x, B + 8, 1, '#444');
    
    
    g.appendChild(bt);
    const t = tickLabel(g, x, B + 30, 'middle', lab);
    
    
  });
  const left = seg(L, T, L, B + 0.5, 1.2, '#222');
  
  
  g.appendChild(left);
  const right = seg(R, T, R, B + 0.5, 1.4, rightColor);
  
  
  g.appendChild(right);
  const top = seg(L, T, R, T, 1.1, '#000');
  
  
  g.appendChild(top);
  const bottom = seg(L - 0.6, B, R, B, 1.2, '#111');
  
  
  g.appendChild(bottom);
  return g;
}
function leftAxis(L, R, fy, ticks, minor, labelX, leftOnly) {
  const g = make('g', {});
  minor.forEach(v => {
    const m = seg(L - 4, fy(v), L, fy(v), 1, '#555');
    
    
    g.appendChild(m);
  });
  ticks.forEach((v, i) => {
    const y = fy(v);
    const gl = seg(L - 8, y, R + (leftOnly ? 8 : 0), y, 1, GRID);
    
    
    g.appendChild(gl);
  });
  return g;
}
function rightAxis(R, fy, ticks, minor) {
  const g = make('g', {});
  minor.forEach(v => {
    const m = seg(R, fy(v), R + 4, fy(v), 1, '#555');
    
    
    g.appendChild(m);
  });
  ticks.forEach(v => {
    const m = seg(R, fy(v), R + 8, fy(v), 1, '#333');
    
    
    g.appendChild(m);
  });
  return g;
}
function between(start, stop, step) {
  const out = [];
  for (let v = start; v <= stop + 1e-9; v += step) out.push(+v.toFixed(4));
  return out;
}

/* ---------- Temperature panel ---------- */
(function () {
  const L = 102.5, R = 430, T = 71.5, B = 399.5;
  const fx = linear(0, HOURS, L, R);
  const fy = linear(10, -15, 109.7, 362.7);
  const fs = linear(0, 600, 399.3, 116);
  const plot = make('g', {});
  
  
  svg.appendChild(plot);
  const clip = make('clipPath', {id: 'clip-temp'});
  clip.appendChild(make('rect', {x: L, y: T, width: R - L + 1, height: B - T}));
  svg.appendChild(clip);
  plot.setAttribute('clip-path', 'url(#clip-temp)');
  const dew = series(plot, dewHours, dewValues, fx, fy, '#48b547', 4, '0 3.5');
  
  
  const orange = series(plot, tempHours, temp9m, fx, fy, '#f58025', 4.6);
  
  
  const red = series(plot, tempHours, temp2m, fx, fy, '#d12127', 4.6);
  
  
  const solar = series(plot, solarHours, solarValues, fx, fs, '#fde25a', 1.2);
  
  
  svg.appendChild(leftAxis(L, R, fy, tempTicks, between(-17.5, 12.5, 5), 86));
  svg.appendChild(rightAxis(R, fs, solarTicks, between(0, 680, 20)));
  svg.appendChild(frame(L, R, T, B, '#333'));
  tempTicks.forEach(v => {
    const t = tickLabel(svg, 85.5, fy(v) + 5.2, 'end', String(v));
    
    
  });
  solarTicks.forEach(v => {
    const t = tickLabel(svg, 446, fs(v) + 5.2, 'start', String(v));
    
    
  });
})();

/* ---------- Winds panel ---------- */
(function () {
  const L = 614.3, R = 942, T = 71.5, B = 399;
  const fx = linear(0, HOURS, L, R);
  const fy = linear(0, 30, 399, 104.3);
  const fp = linear(954, 972, 366.2, 72.5);
  const plot = make('g', {});
  
  
  svg.appendChild(plot);
  [gustTop, gustUpper, gustA, gustMid, gustB, gustLow].forEach((arr, k) => {
    arr.forEach((v, h) => {
      const dot = make('circle', {cx: fx(Math.min(HOURS, h + k * 0.17)), cy: fy(v), r: 2.75, fill: '#000'});
      
      
      plot.appendChild(dot);
    });
  });
  const hoursAll = sonicWind.map((v, i) => i);
  const blue = series(plot, hoursAll, sonicWind, fx, fy, '#4f97d1', 4.8);
  
  
  const maroon = series(plot, pressureHours, pressureValues, fx, fp, '#93181d', 4.4);
  
  
  svg.appendChild(leftAxis(L, R, fy, windTicks, between(2.5, 32.5, 5), 596));
  svg.appendChild(rightAxis(R, fp, pressureTicks, between(952, 972, 1)));
  svg.appendChild(frame(L, R, T, B, '#444'));
  windTicks.forEach(v => {
    const t = tickLabel(svg, 596, fy(v) + 5.2, 'end', String(v));
    
    
  });
  pressureTicks.forEach(v => {
    const t = tickLabel(svg, 958, fp(v) + 5.2, 'start', String(v));
    
    
  });
})();

/* ---------- Humidity panel ---------- */
(function () {
  const L = 102.5, R = 430, T = 532.5, B = 860;
  const fx = linear(0, HOURS, L, R);
  const fy = linear(0, 100, 860, 532.5);
  const fr = linear(0, 1.5, 860, 535.7);
  const plot = make('g', {});
  
  
  svg.appendChild(plot);
  const rh = series(plot, humidityHours, humidityValues, fx, fy, '#94ce52', 5);
  
  
  const rain = series(plot, rainHours, rainValues, fx, fr, '#48b547', 14);
  
  
  svg.appendChild(leftAxis(L, R, fy, humidityTicks, between(10, 90, 20), 86));
  svg.appendChild(rightAxis(R, fr, rainTicks.map(Number), between(0, 1.5, 0.1)));
  svg.appendChild(frame(L, R, T, B, '#444'));
  humidityTicks.forEach(v => {
    const t = tickLabel(svg, 85.5, fy(v) + 5.2, 'end', String(v));
    
    
  });
  rainTicks.forEach(v => {
    const t = tickLabel(svg, 448, fr(Number(v)) + 5.2, 'start', v);
    
    
  });
})();

/* ---------- Wind direction panel ---------- */
(function () {
  const L = 614.3, R = 942, T = 532.5, B = 860;
  const fx = linear(0, HOURS, L, R);
  const fy = linear(0, 360, 860, 532.5);
  const plot = make('g', {});
  
  
  svg.appendChild(plot);
  dirHours.forEach((h, i) => {
    const bin = Math.min(speedColors.length - 1, Math.floor(dirSpeeds[i] / 2));
    const dot = make('circle', {cx: fx(h), cy: fy(dirAngles[i]), r: 3, fill: speedColors[bin]});
    
    
    plot.appendChild(dot);
  });
  const angles = directionTicks.map((n, i) => i * 90);
  svg.appendChild(leftAxis(L, R, fy, angles, [], 596, true));
  svg.appendChild(frame(L, R, T, B, '#555'));
  directionTicks.forEach((n, i) => {
    const t = tickLabel(svg, 596, fy(i * 90) + 5.2, 'end', n);
    
    
  });
  const boxH = (818.7 - 594) / speedColors.length;
  speedColors.forEach((c, i) => {
    const row = speedColors.length - 1 - i;
    const box = make('rect', {x: 953, y: 594 + row * boxH, width: 30, height: boxH + 0.3, fill: c});
    
    
    svg.appendChild(box);
    const t = make('text', {x: 1007, y: 594 + row * boxH + boxH / 2 + 6, 'font-size': 16.5, 'text-anchor': 'middle'}, speedLabels[i]);
    
    
    svg.appendChild(t);
  });
})();
</script>
</body>
</html>
